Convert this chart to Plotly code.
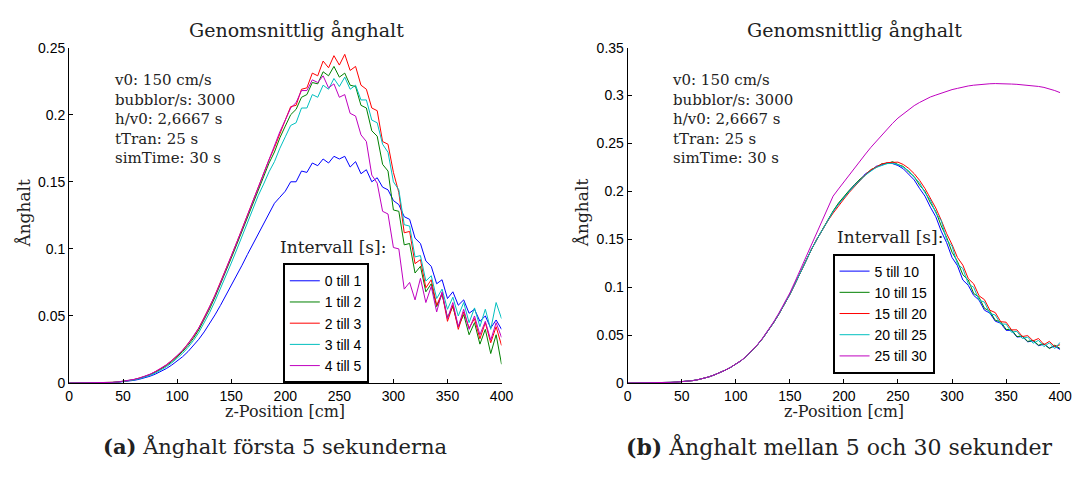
import numpy as np
import plotly.graph_objects as go

W, H = 1083, 479

# ---------------- data ----------------
z = list(range(0, 401, 5))  # z-Position [cm]

# Left panel: intervals 0-5 s
a_0_1 = [0, 0, 0, 0, 0.0001, 0.0001, 0.0001, 0.0002, 0.0004, 0.0006, 0.0009, 0.0014, 0.0020, 0.0028, 0.0038,
         0.0051, 0.0067, 0.0086, 0.0108, 0.0134, 0.0163, 0.0196, 0.0234, 0.0277, 0.0326, 0.0381, 0.0442, 0.0508,
         0.0578, 0.0651, 0.0727, 0.0800, 0.0878, 0.0958, 0.1035, 0.1112, 0.1195, 0.1262, 0.1340, 0.1385, 0.1430,
         0.150, 0.150, 0.158, 0.157, 0.164, 0.162, 0.167, 0.164, 0.169, 0.167, 0.169, 0.161, 0.165, 0.156, 0.159,
         0.150, 0.153, 0.146, 0.144, 0.136, 0.133, 0.124, 0.122, 0.108, 0.104, 0.091, 0.087, 0.074, 0.077, 0.063,
         0.068, 0.058, 0.062, 0.052, 0.055, 0.046, 0.050, 0.041, 0.047, 0.040]
a_1_2 = [0, 0, 0, 0, 0.0001, 0.0001, 0.0002, 0.0003, 0.0005, 0.0008, 0.0012, 0.0017, 0.0025, 0.0035, 0.0047,
         0.0062, 0.0081, 0.0103, 0.0129, 0.0159, 0.0194, 0.0234, 0.0280, 0.0333, 0.0396, 0.0470, 0.0552, 0.0640,
         0.0733, 0.0830, 0.0930, 0.1030, 0.1132, 0.1236, 0.1340, 0.1445, 0.1535, 0.1640, 0.1722, 0.1828, 0.1915,
         0.200, 0.204, 0.213, 0.215, 0.224, 0.223, 0.232, 0.229, 0.236, 0.228, 0.231, 0.222, 0.221, 0.207, 0.205,
         0.188, 0.184, 0.163, 0.158, 0.129, 0.128, 0.103, 0.104, 0.082, 0.087, 0.068, 0.074, 0.057, 0.066, 0.049,
         0.057, 0.042, 0.051, 0.036, 0.045, 0.029, 0.040, 0.022, 0.036, 0.014]
a_2_3 = [0, 0, 0, 0, 0.0001, 0.0001, 0.0002, 0.0003, 0.0005, 0.0008, 0.0012, 0.0018, 0.0026, 0.0036, 0.0049,
         0.0065, 0.0085, 0.0108, 0.0135, 0.0166, 0.0202, 0.0243, 0.0290, 0.0345, 0.0410, 0.0485, 0.0568, 0.0655,
         0.0748, 0.0845, 0.0945, 0.1045, 0.1148, 0.1252, 0.1355, 0.1465, 0.1555, 0.1665, 0.1755, 0.1865, 0.1960,
         0.206, 0.207, 0.219, 0.220, 0.231, 0.229, 0.240, 0.235, 0.244, 0.237, 0.245, 0.233, 0.236, 0.222, 0.219,
         0.205, 0.203, 0.180, 0.178, 0.157, 0.142, 0.112, 0.113, 0.089, 0.092, 0.071, 0.077, 0.058, 0.067, 0.046,
         0.058, 0.040, 0.053, 0.041, 0.048, 0.033, 0.045, 0.030, 0.042, 0.028]
a_3_4 = [0, 0, 0, 0, 0.0001, 0.0001, 0.0002, 0.0003, 0.0004, 0.0007, 0.0011, 0.0016, 0.0023, 0.0032, 0.0043,
         0.0057, 0.0075, 0.0096, 0.0121, 0.0150, 0.0183, 0.0221, 0.0265, 0.0316, 0.0376, 0.0446, 0.0525, 0.0610,
         0.0700, 0.0795, 0.0893, 0.0992, 0.1093, 0.1195, 0.1295, 0.1398, 0.1483, 0.1575, 0.1650, 0.1750, 0.1835,
         0.192, 0.194, 0.205, 0.205, 0.215, 0.213, 0.222, 0.219, 0.227, 0.221, 0.228, 0.219, 0.222, 0.211, 0.211,
         0.196, 0.194, 0.178, 0.172, 0.150, 0.144, 0.118, 0.117, 0.094, 0.095, 0.076, 0.080, 0.063, 0.070, 0.055,
         0.064, 0.050, 0.060, 0.045, 0.056, 0.042, 0.055, 0.040, 0.060, 0.048]
a_4_5 = [0, 0, 0, 0, 0.0001, 0.0001, 0.0002, 0.0003, 0.0005, 0.0008, 0.0013, 0.0019, 0.0027, 0.0037, 0.0050,
         0.0066, 0.0086, 0.0109, 0.0136, 0.0167, 0.0203, 0.0244, 0.0291, 0.0346, 0.0410, 0.0484, 0.0566, 0.0653,
         0.0746, 0.0843, 0.0943, 0.1043, 0.1146, 0.1250, 0.1355, 0.1465, 0.1557, 0.1670, 0.1765, 0.1873, 0.1960,
         0.205, 0.209, 0.218, 0.218, 0.226, 0.224, 0.229, 0.220, 0.223, 0.213, 0.215, 0.201, 0.199, 0.185, 0.180,
         0.155, 0.149, 0.128, 0.126, 0.101, 0.100, 0.070, 0.075, 0.062, 0.078, 0.060, 0.072, 0.053, 0.068, 0.048,
         0.060, 0.042, 0.055, 0.040, 0.050, 0.036, 0.046, 0.032, 0.045, 0.034]

# Right panel: intervals 5-30 s
b_5_10 = [0, 0, 0, 0, 0.0001, 0.0001, 0.0002, 0.0004, 0.0007, 0.0010, 0.0013, 0.0018, 0.0025, 0.0035, 0.0048,
          0.0064, 0.0084, 0.0107, 0.0133, 0.0162, 0.0195, 0.0234, 0.0281, 0.0335, 0.0398, 0.0468, 0.0545, 0.0630,
          0.0722, 0.0820, 0.0925, 0.1040, 0.1160, 0.1280, 0.1395, 0.1500, 0.1600, 0.1700, 0.1790, 0.1870, 0.1940,
          0.2010, 0.2072, 0.2120, 0.2185, 0.2215, 0.2262, 0.2275, 0.2298, 0.2290, 0.2270, 0.2235, 0.2175, 0.2120,
          0.2030, 0.1950, 0.1835, 0.1735, 0.1585, 0.1465, 0.1310, 0.1225, 0.1075, 0.1020, 0.0915, 0.0865, 0.0760,
          0.0730, 0.0645, 0.0625, 0.0550, 0.0550, 0.0480, 0.0485, 0.0430, 0.0440, 0.0390, 0.0405, 0.0365, 0.0385,
          0.0350]
b_10_15 = [0, 0, 0, 0, 0.0001, 0.0001, 0.0002, 0.0004, 0.0007, 0.0010, 0.0013, 0.0018, 0.0025, 0.0035, 0.0048,
           0.0064, 0.0084, 0.0107, 0.0133, 0.0162, 0.0195, 0.0234, 0.0281, 0.0335, 0.0398, 0.0468, 0.0545, 0.0630,
           0.0722, 0.0820, 0.0925, 0.1040, 0.1160, 0.1280, 0.1395, 0.1500, 0.1600, 0.1705, 0.1795, 0.1878, 0.1948,
           0.2012, 0.2070, 0.2130, 0.2170, 0.2228, 0.2250, 0.2288, 0.2290, 0.2310, 0.2280, 0.2260, 0.2200, 0.2155,
           0.2065, 0.2000, 0.1880, 0.1790, 0.1640, 0.1520, 0.1365, 0.1270, 0.1130, 0.1075, 0.0935, 0.0895, 0.0780,
           0.0750, 0.0655, 0.0640, 0.0560, 0.0555, 0.0485, 0.0490, 0.0435, 0.0445, 0.0395, 0.0410, 0.0360, 0.0395,
           0.0360]
b_15_20 = [0, 0, 0, 0, 0.0001, 0.0001, 0.0002, 0.0004, 0.0007, 0.0010, 0.0013, 0.0018, 0.0025, 0.0035, 0.0048,
           0.0064, 0.0084, 0.0107, 0.0133, 0.0162, 0.0195, 0.0234, 0.0281, 0.0335, 0.0398, 0.0468, 0.0545, 0.0630,
           0.0722, 0.0820, 0.0925, 0.1040, 0.1160, 0.1280, 0.1395, 0.1500, 0.1600, 0.1690, 0.1772, 0.1850, 0.1920,
           0.1990, 0.2055, 0.2120, 0.2175, 0.2225, 0.2258, 0.2285, 0.2300, 0.2305, 0.2305, 0.2280, 0.2240, 0.2185,
           0.2115, 0.2030, 0.1935, 0.1825, 0.1700, 0.1560, 0.1445, 0.1310, 0.1230, 0.1090, 0.1035, 0.0910, 0.0870,
           0.0760, 0.0735, 0.0640, 0.0635, 0.0555, 0.0555, 0.0485, 0.0495, 0.0440, 0.0465, 0.0400, 0.0435, 0.0380,
           0.0400]
b_20_25 = [0, 0, 0, 0, 0.0001, 0.0001, 0.0002, 0.0004, 0.0007, 0.0010, 0.0013, 0.0018, 0.0025, 0.0035, 0.0048,
           0.0064, 0.0084, 0.0107, 0.0133, 0.0162, 0.0195, 0.0234, 0.0281, 0.0335, 0.0398, 0.0468, 0.0545, 0.0630,
           0.0722, 0.0820, 0.0925, 0.1040, 0.1160, 0.1280, 0.1395, 0.1500, 0.1600, 0.1698, 0.1788, 0.1865, 0.1935,
           0.2000, 0.2060, 0.2118, 0.2170, 0.2212, 0.2250, 0.2270, 0.2290, 0.2292, 0.2280, 0.2250, 0.2215, 0.2145,
           0.2090, 0.1985, 0.1910, 0.1775, 0.1695, 0.1495, 0.1430, 0.1240, 0.1195, 0.1035, 0.1000, 0.0865, 0.0845,
           0.0725, 0.0710, 0.0615, 0.0615, 0.0530, 0.0540, 0.0465, 0.0480, 0.0415, 0.0445, 0.0380, 0.0420, 0.0360,
           0.0425]
b_25_30 = [0, 0, 0, 0, 0.0001, 0.0001, 0.0002, 0.0004, 0.0007, 0.0010, 0.0013, 0.0018, 0.0025, 0.0035, 0.0048,
           0.0064, 0.0084, 0.0107, 0.0133, 0.0162, 0.0195, 0.0235, 0.0283, 0.0338, 0.0401, 0.0472, 0.0551, 0.0638,
           0.0732, 0.0832, 0.0940, 0.1063, 0.1190, 0.1318, 0.1445, 0.1570, 0.1695, 0.1820, 0.1950, 0.2025, 0.2100,
           0.2175, 0.2250, 0.2320, 0.2390, 0.2460, 0.2525, 0.2590, 0.2650, 0.2710, 0.2765, 0.2810, 0.2855, 0.2895,
           0.2928, 0.2960, 0.2985, 0.3005, 0.3025, 0.3045, 0.3062, 0.3075, 0.3090, 0.3100, 0.3108, 0.3115, 0.3120,
           0.3123, 0.3125, 0.3125, 0.3123, 0.3120, 0.3117, 0.3113, 0.3108, 0.3103, 0.3095, 0.3085, 0.3070, 0.3052,
           0.3030]

left_names = ["0 till 1", "1 till 2", "2 till 3", "3 till 4", "4 till 5"]
right_names = ["5 till 10", "10 till 15", "15 till 20", "20 till 25", "25 till 30"]
left_series = [a_0_1, a_1_2, a_2_3, a_3_4, a_4_5]
right_series = [b_5_10, b_10_15, b_15_20, b_20_25, b_25_30]
colors = ["#0000ff", "#008000", "#ff0000", "#00bfbf", "#bf00bf"]

x_ticks = [0, 50, 100, 150, 200, 250, 300, 350, 400]
left_yticks = [0, 0.05, 0.1, 0.15, 0.2, 0.25]
right_yticks = [0, 0.05, 0.1, 0.15, 0.2, 0.25, 0.3, 0.35]

title_text = "Genomsnittlig ånghalt"
info_lines = ["v0: 150 cm/s", "bubblor/s: 3000", "h/v0: 2,6667 s", "tTran: 25 s", "simTime: 30 s"]
legend_title = "Intervall [s]:"
xlabel = "z-Position [cm]"
ylabel = "Ånghalt"
cap_a = ("(a)", "Ånghalt första 5 sekunderna")
cap_b = ("(b)", "Ånghalt mellan 5 och 30 sekunder")

# ---------------- figure ----------------
SERIF = "DejaVu Serif"
SANS = "Liberation Sans"

def px(x):
    return x / W

def py(y):
    return 1 - y / H

LX0, LX1 = 66, 505
RX0, RX1 = 633, 1072
YT, YB = 41, 388

fig = go.Figure()
for name, ys, c in zip(left_names, left_series, colors):
    fig.add_trace(go.Scatter(x=z, y=ys, mode="lines", name=name, line=dict(color=c, width=1),
                             xaxis="x", yaxis="y", legend="legend"))
for name, ys, c in zip(right_names, right_series, colors):
    fig.add_trace(go.Scatter(x=z, y=ys, mode="lines", name=name, line=dict(color=c, width=1),
                             xaxis="x2", yaxis="y2", legend="legend2"))

axis_common = dict(showline=True, linecolor="black", linewidth=1, ticks="inside", ticklen=4,
                   tickcolor="black", tickwidth=1, showgrid=False, zeroline=False, mirror=False,
                   tickfont=dict(family=SANS, size=14, color="black"))

fig.update_layout(
    width=W, height=H, margin=dict(l=0, r=0, t=0, b=0),
    paper_bgcolor="white", plot_bgcolor="white",
    xaxis=dict(domain=[px(LX0), px(LX1)], range=[0, 400], tickvals=x_ticks, anchor="y", **axis_common),
    yaxis=dict(domain=[py(YB), py(YT)], range=[0, 0.25], tickvals=left_yticks,
               ticktext=[f"{v:g}" for v in left_yticks], anchor="x", **axis_common),
    xaxis2=dict(domain=[px(RX0), px(RX1)], range=[0, 400], tickvals=x_ticks, anchor="y2", **axis_common),
    yaxis2=dict(domain=[py(YB), py(YT)], range=[0, 0.35], tickvals=right_yticks,
                ticktext=[f"{v:g}" for v in right_yticks], anchor="x2", **axis_common),
    legend=dict(x=px(283), y=py(264), xanchor="left", yanchor="top", bgcolor="white",
                bordercolor="black", borderwidth=2, font=dict(family=SANS, size=14, color="black"),
                itemwidth=30, tracegroupgap=0),
    legend2=dict(x=px(841), y=py(254), xanchor="left", yanchor="top", bgcolor="white",
                 bordercolor="black", borderwidth=2, font=dict(family=SANS, size=14, color="black"),
                 itemwidth=30, tracegroupgap=0),
    showlegend=True,
)

ann = []
def text(x, y, s, size, family=SERIF, xanchor="center", yanchor="middle", angle=0, align="center"):
    ann.append(dict(x=px(x), y=py(y), xref="paper", yref="paper", text=s, showarrow=False,
                    xanchor=xanchor, yanchor=yanchor, textangle=angle, align=align,
                    font=dict(family=family, size=size, color="#222222")))

info_block = "<br>".join(info_lines)
for cx0, cx1, infox, legx, legy in [(LX0, LX1, 110, 278, 247), (RX0, RX1, 676, 843, 237)]:
    text((cx0 + cx1) / 2 + 11, 23, title_text, 19)
    text(infox, 63, info_block, 15, xanchor="left", yanchor="top", align="left")
    text(legx, legy, legend_title, 17, xanchor="left")
    text((cx0 + cx1) / 2, 417, xlabel, 16)
    text(cx0 - 46, 212, ylabel, 17, angle=-90)

text(275, 454, f"<b>{cap_a[0]}</b> {cap_a[1]}", 21)
text(848, 454, f"<b>{cap_b[0]}</b> {cap_b[1]}", 22)
fig.update_layout(annotations=ann)

fig.write_html("out.html")
